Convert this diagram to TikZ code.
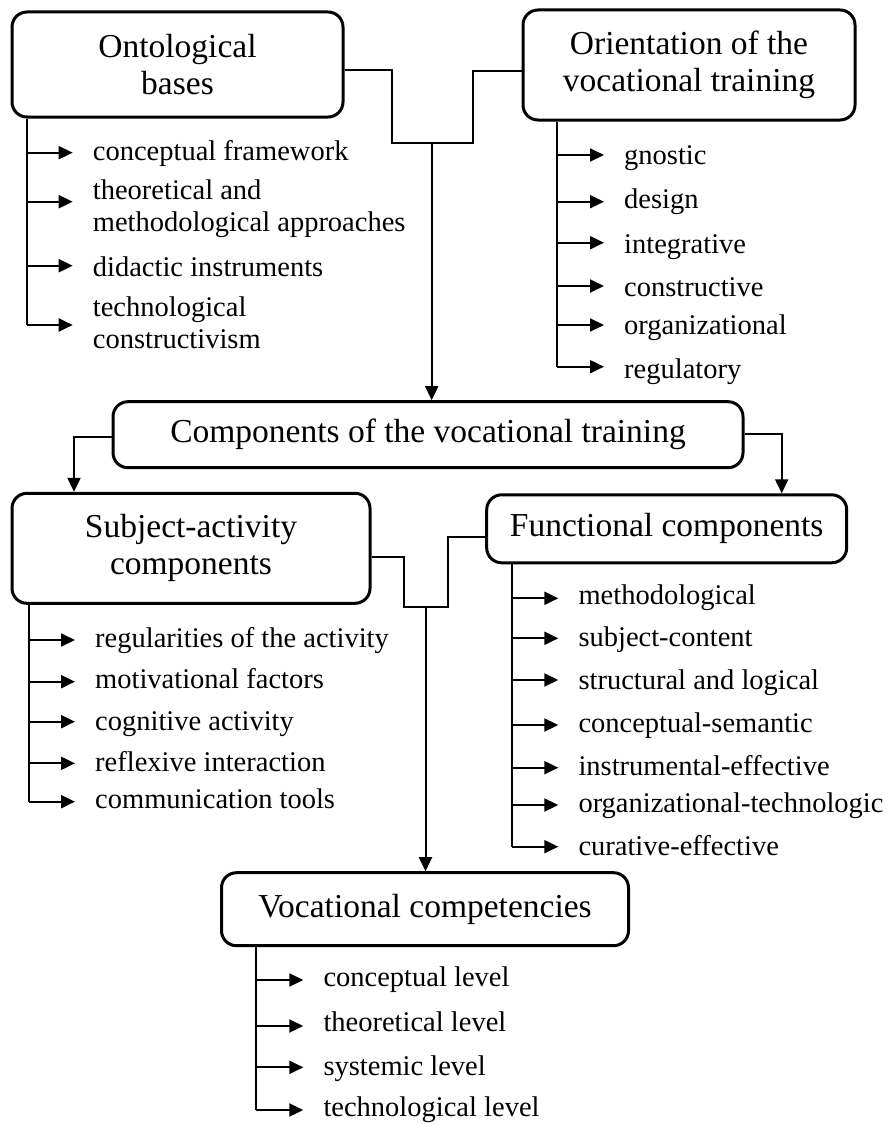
\documentclass[tikz,border=0pt]{standalone}
\usepackage{fontspec}
\setmainfont{Liberation Serif}
\usetikzlibrary{arrows.meta}

\begin{document}
\begin{tikzpicture}[x=1pt,y=-1pt,
  box/.style={draw,line width=3pt,rounded corners=15pt,align=center,inner sep=0pt,font=\fontsize{33.5}{37}\selectfont},
  item/.style={anchor=base west,align=left,inner xsep=20pt,inner ysep=0pt,font=\fontsize{28.5}{31.5}\selectfont},
  line/.style={line width=2pt},
  arr/.style={line width=2pt,-{Triangle[length=14pt,width=13pt]}}]
\useasboundingbox (0,0) rectangle (893,1124);
\node [box,minimum width=331pt,minimum height=105pt] (onto) at (177.5,64.5) {Ontological\\bases};
\node [box,minimum width=332pt,minimum height=110pt] (orient) at (689,65) {Orientation of the\\vocational training};
\node [box,minimum width=630pt,minimum height=66pt] (comp) at (428,434.7) {Components of the vocational training};
\node [box,minimum width=358pt,minimum height=110pt] (subj) at (191,548.3) {Subject-activity\\components};
\node [box,minimum width=360pt,minimum height=68pt] (func) at (666.7,528.8) {Functional components};
\node [box,minimum width=407pt,minimum height=73pt] (voc) at (425,909.2) {Vocational competencies};
\coordinate (j1) at (392,143);
\coordinate (j2) at (473,143);
\coordinate (j3) at (431.7,143);
\draw [line] ([yshift=-6]onto.east) -| (j1) -- (j2) |- ([yshift=-6]orient.west);
\draw [arr] (j3) -- (j3 |- comp.north);
\draw [arr] ([yshift=-2]comp.west) -| ([xshift=-117]subj.north);
\draw [arr] ([yshift=1]comp.east) -| ([xshift=115]func.north);
\coordinate (k1) at (404,607.3);
\coordinate (k2) at (448.3,607.3);
\coordinate (k3) at (425.5,607.3);
\draw [line] ([yshift=-9]subj.east) -| (k1) -- (k2) |- ([yshift=-8]func.west);
\draw [arr] (k3) -- (k3 |- voc.north);
\node [item] (o1t) at (72.7,160) {conceptual framework};
\node [item] (o2t) at (72.7,231) {theoretical and\\methodological approaches};
\node [item] (o3t) at (72.7,276.7) {didactic instruments};
\node [item] (o4t) at (72.7,348.3) {technological\\constructivism};
\coordinate (o1) at (26.7,152.7);
\coordinate (o2) at (26.7,201.7);
\coordinate (o3) at (26.7,265.7);
\coordinate (o4) at (26.7,325);
\draw [line] (onto.south -| o4) -- (o4);
\draw [arr] (o1) -- (o1 -| o1t.west);
\draw [arr] (o2) -- (o2 -| o2t.west);
\draw [arr] (o3) -- (o3 -| o3t.west);
\draw [arr] (o4) -- (o4 -| o4t.west);
\node [item] (r1t) at (604,164) {gnostic};
\node [item] (r2t) at (604,208.3) {design};
\node [item] (r3t) at (604,253.3) {integrative};
\node [item] (r4t) at (604,296) {constructive};
\node [item] (r5t) at (604,334.3) {organizational};
\node [item] (r6t) at (604,378.3) {regulatory};
\coordinate (r1) at (557.3,155);
\coordinate (r2) at (557.3,201.7);
\coordinate (r3) at (557.3,242.7);
\coordinate (r4) at (557.3,286);
\coordinate (r5) at (557.3,325);
\coordinate (r6) at (557.3,366.7);
\draw [line] (orient.south -| r6) -- (r6);
\draw [arr] (r1) -- (r1 -| r1t.west);
\draw [arr] (r2) -- (r2 -| r2t.west);
\draw [arr] (r3) -- (r3 -| r3t.west);
\draw [arr] (r4) -- (r4 -| r4t.west);
\draw [arr] (r5) -- (r5 -| r5t.west);
\draw [arr] (r6) -- (r6 -| r6t.west);
\node [item] (s1t) at (75,647.7) {regularities of the activity};
\node [item] (s2t) at (75,688.3) {motivational factors};
\node [item] (s3t) at (75,730) {cognitive activity};
\node [item] (s4t) at (75,771) {reflexive interaction};
\node [item] (s5t) at (75,808.3) {communication tools};
\coordinate (s1) at (29.3,640);
\coordinate (s2) at (29.3,681.7);
\coordinate (s3) at (29.3,721.7);
\coordinate (s4) at (29.3,763.3);
\coordinate (s5) at (29.3,801.7);
\draw [line] (subj.south -| s5) -- (s5);
\draw [arr] (s1) -- (s1 -| s1t.west);
\draw [arr] (s2) -- (s2 -| s2t.west);
\draw [arr] (s3) -- (s3 -| s3t.west);
\draw [arr] (s4) -- (s4 -| s4t.west);
\draw [arr] (s5) -- (s5 -| s5t.west);
\node [item] (f1t) at (558.3,604) {methodological};
\node [item] (f2t) at (558.3,646) {subject-content};
\node [item] (f3t) at (558.3,689) {structural and logical};
\node [item] (f4t) at (558.3,732.7) {conceptual-semantic};
\node [item] (f5t) at (558.3,775) {instrumental-effective};
\node [item] (f6t) at (558.3,812.7) {organizational-technologic};
\node [item] (f7t) at (558.3,855) {curative-effective};
\coordinate (f1) at (511.5,598.3);
\coordinate (f2) at (511.5,638.3);
\coordinate (f3) at (511.5,680);
\coordinate (f4) at (511.5,725);
\coordinate (f5) at (511.5,767.7);
\coordinate (f6) at (511.5,805);
\coordinate (f7) at (511.5,846.7);
\draw [line] (func.south -| f7) -- (f7);
\draw [arr] (f1) -- (f1 -| f1t.west);
\draw [arr] (f2) -- (f2 -| f2t.west);
\draw [arr] (f3) -- (f3 -| f3t.west);
\draw [arr] (f4) -- (f4 -| f4t.west);
\draw [arr] (f5) -- (f5 -| f5t.west);
\draw [arr] (f6) -- (f6 -| f6t.west);
\draw [arr] (f7) -- (f7 -| f7t.west);
\node [item] (v1t) at (303.3,986.7) {conceptual level};
\node [item] (v2t) at (303.3,1031.7) {theoretical level};
\node [item] (v3t) at (303.3,1075) {systemic level};
\node [item] (v4t) at (303.3,1116.7) {technological level};
\coordinate (v1) at (256,980);
\coordinate (v2) at (256,1026);
\coordinate (v3) at (256,1067.3);
\coordinate (v4) at (256,1110);
\draw [line] (voc.south -| v4) -- (v4);
\draw [arr] (v1) -- (v1 -| v1t.west);
\draw [arr] (v2) -- (v2 -| v2t.west);
\draw [arr] (v3) -- (v3 -| v3t.west);
\draw [arr] (v4) -- (v4 -| v4t.west);
\end{tikzpicture}
\end{document}
